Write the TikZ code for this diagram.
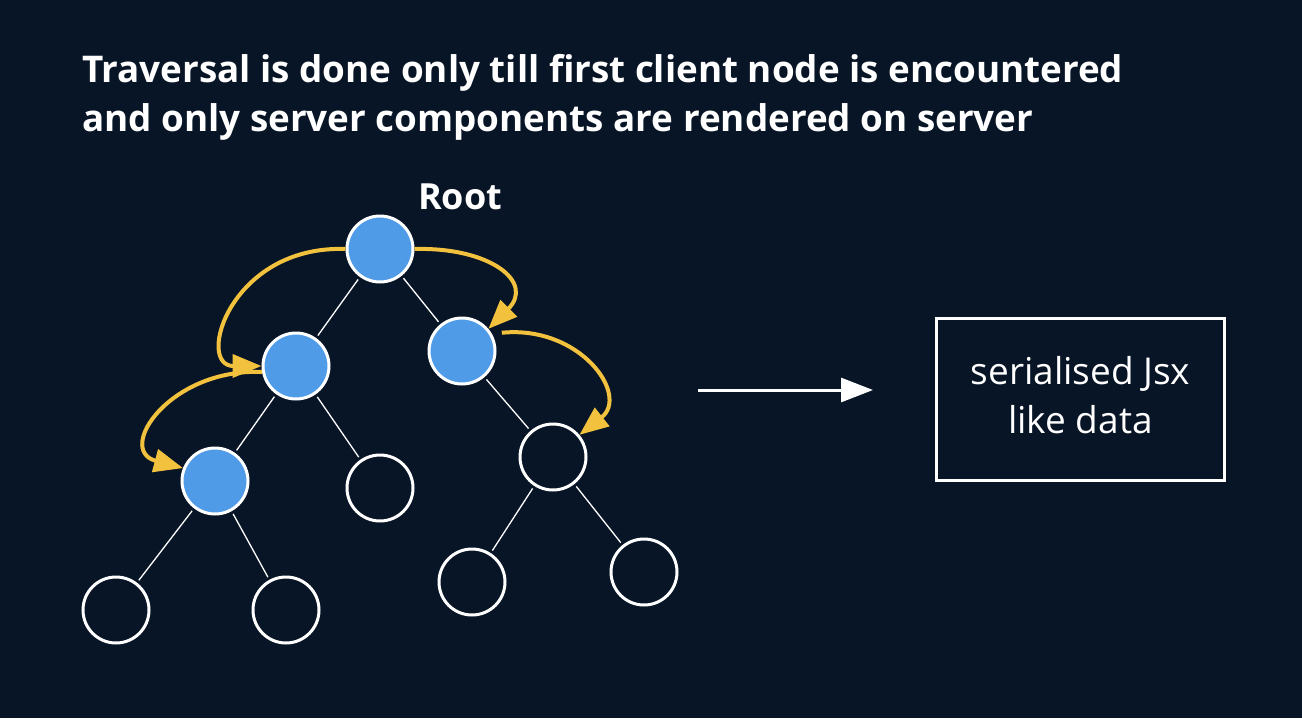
\documentclass[tikz,border=0pt]{standalone}
\usepackage{fontspec}
\setmainfont{Open Sans}
\usetikzlibrary{arrows.meta}
\definecolor{bg}{HTML}{081526}
\definecolor{nodeblue}{HTML}{4F9BE8}
\definecolor{trail}{HTML}{F2C23E}

\begin{document}
\begin{tikzpicture}[x=1pt,y=-1pt,
  treenode/.style={circle,draw=white,line width=3pt,minimum size=66pt,inner sep=0pt},
  visited/.style={treenode,fill=nodeblue},
  pending/.style={treenode,fill=bg},
  branch/.style={draw=white,line width=1.3pt,shorten <=3pt,shorten >=3pt},
  trailarrow/.style={draw=trail,line width=4pt,-{Triangle[length=29pt,width=23pt]}},
  heading/.style={anchor=base west,text=white,inner sep=0pt,font=\bfseries\fontsize{36.8}{44}\selectfont},
  outbox/.style={draw=white,line width=3pt,minimum width=288pt,minimum height=162pt},
  outtext/.style={align=center,text=white,font=\fontsize{37}{49}\selectfont},
 ]
  % background
  \fill[bg] (0,0) rectangle (1302,718);
  \useasboundingbox (0,0) rectangle (1302,718);

  % heading
  \node[heading] (title1) at (82,82) {Traversal is done only till first client node is encountered};
  \node[heading] (title2) at (82,131) {and only server components are rendered on server};
  \node[heading,font=\bfseries\fontsize{36}{42}\selectfont] (rootlabel) at (418,209) {Root};

  % tree
  \node[visited] (R)  at (380,249) {};
  \node[visited] (A)  at (296,366) {};
  \node[visited] (B)  at (462,351) {};
  \node[visited] (C)  at (215,481) {};
  \node[pending] (D)  at (380,488) {};
  \node[pending] (E)  at (553,457) {};
  \node[pending] (LL) at (116,610) {};
  \node[pending] (LR) at (286,610) {};
  \node[pending] (EL) at (472,582) {};
  \node[pending] (ER) at (644,572) {};

  \draw[branch] (R) -- (A);
  \draw[branch] (R) -- (B);
  \draw[branch] (A) -- (C);
  \draw[branch] (A) -- (D);
  \draw[branch] (B) -- (E);
  \draw[branch] (C) -- (LL);
  \draw[branch] (C) -- (LR);
  \draw[branch] (E) -- (EL);
  \draw[branch] (E) -- (ER);

  % traversal order
  \draw[trailarrow] (R.west) .. controls (230,245) and (195,366) .. (A.west);
  \draw[trailarrow] (R.east) .. controls (490,247) and (535,282) .. (B.40);
  \draw[trailarrow] (A.190) .. controls (170,368) and (115,450) .. (C.158);
  \draw[trailarrow,shorten <=10pt] (B.30) .. controls (580,325) and (630,395) .. (E.40);

  % output
  \coordinate (outS) at (698,390);
  \coordinate (outE) at (873,390);
  \draw[white,line width=3pt,-{Triangle[length=32pt,width=24pt]}] (outS) -- (outE);
  \node[outbox] (jsx) at (1080.5,399.5) {};
  \node[outtext] (jsxtext) at ([yshift=4pt]jsx.center) {serialised Jsx\\like data};
\end{tikzpicture}
\end{document}
